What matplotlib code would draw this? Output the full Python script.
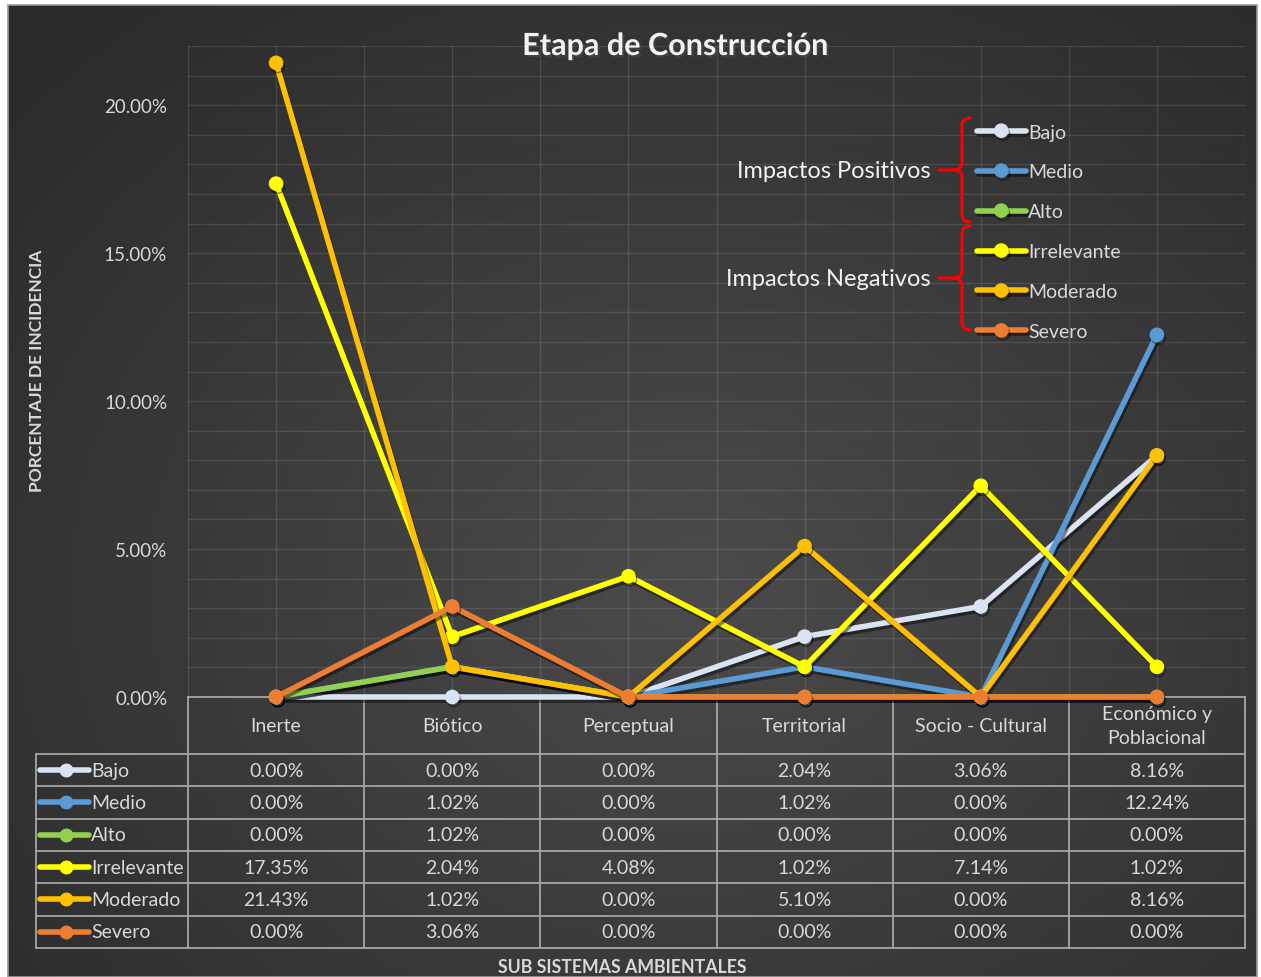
import numpy as np
import matplotlib
matplotlib.use("Agg")
import matplotlib.pyplot as plt
from matplotlib import patheffects as pe
from matplotlib.path import Path
from matplotlib.patches import PathPatch, Rectangle

plt.rcParams["font.family"] = ["Lato", "DejaVu Sans"]

categorias = ["Inerte", "Biótico", "Perceptual", "Territorial",
              "Socio - Cultural", "Económico y\nPoblacional"]
nombres = ["Bajo", "Medio", "Alto", "Irrelevante", "Moderado", "Severo"]
bajo = [0.00, 0.00, 0.00, 2.04, 3.06, 8.16]
medio = [0.00, 1.02, 0.00, 1.02, 0.00, 12.24]
alto = [0.00, 1.02, 0.00, 0.00, 0.00, 0.00]
irrelevante = [17.35, 2.04, 4.08, 1.02, 7.14, 1.02]
moderado = [21.43, 1.02, 0.00, 5.10, 0.00, 8.16]
severo = [0.00, 3.06, 0.00, 0.00, 0.00, 0.00]
series = [bajo, medio, alto, irrelevante, moderado, severo]
colores = ["#dae3f3", "#5b9bd5", "#92d050", "#ffff00", "#ffc000", "#ed7d31"]

W, H = 1261, 978
TXT = "#d9d9d9"
BORDE = "#a6a6a6"
FS = 14

fig = plt.figure(figsize=(W / 100, H / 100), dpi=100)
fig.patch.set_facecolor("white")

# fondo con degradado radial
bg = fig.add_axes([8 / W, 0, (1257 - 8) / W, (978 - 6) / H])
gy, gx = np.mgrid[0:1:300j, 0:1:400j]
d = np.sqrt(((gx - 0.55) / 0.75) ** 2 + ((gy - 0.6) / 0.8) ** 2)
val = 0.295 - 0.13 * np.clip(d, 0, 1)
bg.imshow(np.dstack([val, val, val]), aspect="auto", extent=[0, 1, 0, 1])
bg.set_axis_off()
bg.add_patch(Rectangle((0, 0), 1, 1, fill=False, ec="#9a9a9a", lw=1.2,
                       transform=bg.transAxes, clip_on=False))

ax = fig.add_axes([188 / W, (978 - 698) / H, 1057 / W, 651 / H])
ax.patch.set_visible(False)
ax.set_xlim(-0.5, 5.5)
ax.set_ylim(0, 22)
ax.set_yticks([0, 5, 10, 15, 20])
ax.set_yticklabels([f"{v:.2f}%" for v in [0, 5, 10, 15, 20]])
ax.set_yticks(np.arange(0, 23, 1), minor=True)
ax.set_xticks([])
ax.set_xticks(np.arange(-0.5, 5.6, 0.5), minor=True)
ax.tick_params(which="both", length=0, labelcolor=TXT, labelsize=FS - 0.5, pad=15)
ax.grid(which="both", color="white", alpha=0.11, lw=1)
ax.set_axisbelow(True)
for s in ax.spines.values():
    s.set_visible(False)

sombra = [pe.SimpleLineShadow(offset=(1.2, -2.2), alpha=0.45, shadow_color="black"),
          pe.Normal()]
lineas = []
for nombre, vals, c in zip(nombres, series, colores):
    ln, = ax.plot(range(len(categorias)), vals, color=c, lw=4, marker="o",
                  ms=9.5, label=nombre, clip_on=False, zorder=3,
                  solid_capstyle="round", path_effects=sombra)
    lineas.append(ln)

leg = ax.legend(handles=lineas, loc="upper left", frameon=False,
                bbox_to_anchor=(977 / W, 1 - 124.5 / H), bbox_transform=fig.transFigure,
                fontsize=FS, handlelength=2.5, handletextpad=0.12,
                labelspacing=1.18, borderpad=0, borderaxespad=0)
for t in leg.get_texts():
    t.set_color(TXT)

# tabla de datos
tr = ax.get_xaxis_transform()
px = 176.17
hdr = 57 / 651
rh = 32.3 / 651
izq = -0.5 - 152 / px
n = len(nombres)
fondo_tabla = -(hdr + n * rh)

def hline(y, x0, x1):
    ax.plot([x0, x1], [y, y], color=BORDE, lw=1.3, transform=tr, clip_on=False, zorder=2)

def vline(x, y0, y1):
    ax.plot([x, x], [y0, y1], color=BORDE, lw=1.3, transform=tr, clip_on=False, zorder=2)

hline(0, -0.5, 5.5)
for i in range(n + 1):
    hline(-(hdr + i * rh), izq, 5.5)
for k in range(len(categorias) + 1):
    vline(k - 0.5, 0, fondo_tabla)
vline(izq, -hdr, fondo_tabla)

for k, cat in enumerate(categorias):
    ax.text(k, -hdr / 2, cat, transform=tr, ha="center", va="center",
            color=TXT, fontsize=FS, linespacing=1.55)

for i, (nombre, vals, c) in enumerate(zip(nombres, series, colores)):
    yc = -(hdr + (i + 0.5) * rh)
    ax.plot([izq + 4 / px, izq + 53 / px], [yc, yc], color=c, lw=4,
            solid_capstyle="round", transform=tr, clip_on=False)
    ax.plot([izq + 30 / px], [yc], "o", color=c, ms=9, transform=tr, clip_on=False)
    ax.text(izq + 55 / px, yc, nombre, transform=tr, ha="left", va="center",
            color=TXT, fontsize=FS)
    for k, v in enumerate(vals):
        ax.text(k, yc, f"{v:.2f}%", transform=tr, ha="center", va="center",
                color=TXT, fontsize=FS)

# llaves rojas y rotulos de grupo
ov = fig.add_axes([0, 0, 1, 1])
ov.set_xlim(0, W)
ov.set_ylim(H, 0)
ov.set_axis_off()
ov.patch.set_visible(False)

def llave(x, y0, y1, xpunta, r=8):
    ym = (y0 + y1) / 2
    verts = [(x + r, y0), (x, y0), (x, y0 + r), (x, ym - r), (x, ym), (x - r, ym),
             (x - r, ym), (x, ym), (x, ym + r), (x, y1 - r), (x, y1), (x + r, y1),
             (x - r, ym), (xpunta, ym)]
    codes = [Path.MOVETO, Path.CURVE3, Path.CURVE3, Path.LINETO, Path.CURVE3, Path.CURVE3,
             Path.MOVETO, Path.CURVE3, Path.CURVE3, Path.LINETO, Path.CURVE3, Path.CURVE3,
             Path.MOVETO, Path.LINETO]
    ov.add_patch(PathPatch(Path(verts, codes), fill=False, ec="#ff0000", lw=2.2,
                           capstyle="round"))
    return ym

ym1 = llave(962, 119, 223, 939)
ym2 = llave(962, 227, 331, 939)
ov.text(931, ym1, "Impactos Positivos", ha="right", va="center", color="#f2f2f2", fontsize=17)
ov.text(931, ym2, "Impactos Negativos", ha="right", va="center", color="#f2f2f2", fontsize=17)

fig.text(675 / W, 1 - 47 / H, "Etapa de Construcción", ha="center", va="center",
         color="#f2f2f2", fontsize=22, fontweight="bold",
         path_effects=[pe.withSimplePatchShadow(offset=(1.5, -1.5), alpha=0.6)])
fig.text(37 / W, 1 - 371 / H, "PORCENTAJE DE INCIDENCIA", rotation=90, ha="center",
         va="center", color=TXT, fontsize=12.5, fontweight="bold")
fig.text(622 / W, 1 - 968 / H, "SUB SISTEMAS AMBIENTALES", ha="center", va="center",
         color=TXT, fontsize=12.8, fontweight="bold")

fig.savefig("out.png", dpi=100)
